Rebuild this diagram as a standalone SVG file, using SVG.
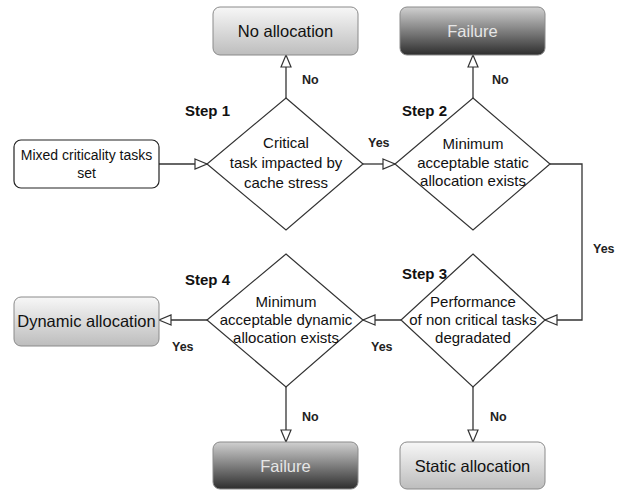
<svg xmlns="http://www.w3.org/2000/svg" width="628" height="490" viewBox="0 0 628 490">
<style>
.box{stroke:#8a8a8a;stroke-width:1}
.gray{fill:url(#gGray)}
.dark{fill:url(#gDark)}
.dia{fill:#fff;stroke:#333;stroke-width:1.2}
.conn{fill:none;stroke:#333;stroke-width:1.3;marker-end:url(#arr)}
text{font-family:"Liberation Sans",Arial,sans-serif;text-anchor:middle}
.bt{font-size:16.5px;fill:#111}
.ft{font-size:16.5px;fill:#e6e6e6}
.dt{font-size:15px;fill:#111}
.st{font-size:15px;font-weight:bold;fill:#111;text-anchor:start}
.lb{font-size:12.5px;font-weight:bold;fill:#222;text-anchor:start}
</style>
<defs>
<linearGradient id="gGray" x1="0" y1="0" x2="0" y2="1">
<stop offset="0" stop-color="#f7f7f7"/>
<stop offset="1" stop-color="#bdbdbd"/>
</linearGradient>
<linearGradient id="gDark" x1="0" y1="0" x2="0" y2="1">
<stop offset="0" stop-color="#d0d0d0"/>
<stop offset="1" stop-color="#2e2e2e"/>
</linearGradient>
<marker id="arr" markerUnits="userSpaceOnUse" markerWidth="14" markerHeight="12" refX="13" refY="6" orient="auto">
<path d="M1,1 L13,6 L1,11 Z" fill="#fff" stroke="#333" stroke-width="1.2"/>
</marker>
</defs>
<rect width="628" height="490" fill="#fff"/>

<g id="connectors">
<path class="conn" d="M159,164 H207"/>
<path class="conn" d="M286,98 V55"/>
<path class="conn" d="M363,164 H395"/>
<path class="conn" d="M473,98 V55"/>
<path class="conn" d="M550,164 H582 V320 H545"/>
<path class="conn" d="M401,320 H363"/>
<path class="conn" d="M473,387 V442"/>
<path class="conn" d="M207,320 H159"/>
<path class="conn" d="M286,387 V442"/>
<text class="lb" x="302" y="84">No</text>
<text class="lb" x="492" y="84">No</text>
<text class="lb" x="368" y="147">Yes</text>
<text class="lb" x="593" y="253">Yes</text>
<text class="lb" x="371" y="351">Yes</text>
<text class="lb" x="172" y="351">Yes</text>
<text class="lb" x="302" y="421">No</text>
<text class="lb" x="490" y="421">No</text>
</g>

<g id="mixed">
<rect x="14" y="140" width="145" height="48" rx="7" fill="#fff" stroke="#222" stroke-width="1.2"/>
<text class="dt" style="font-size:14px" x="86.5" y="160">Mixed criticality tasks</text>
<text class="dt" style="font-size:14px" x="86.5" y="178">set</text>
</g>

<g id="step1">
<text class="st" x="185" y="116">Step 1</text>
<polygon class="dia" points="286,98 363,164 286,230 207,164"/>
<text class="dt" x="286" y="148">Critical</text>
<text class="dt" x="286" y="168">task impacted by</text>
<text class="dt" x="286" y="188">cache stress</text>
</g>

<g id="noalloc">
<rect class="box gray" x="213" y="7" width="145" height="48" rx="7"/>
<text class="bt" x="285.5" y="37">No allocation</text>
</g>

<g id="step2">
<text class="st" x="402" y="116">Step 2</text>
<polygon class="dia" points="473,98 550,164 473,230 395,164"/>
<text class="dt" x="473" y="149">Minimum</text>
<text class="dt" x="473" y="168">acceptable static</text>
<text class="dt" x="473" y="186">allocation exists</text>
</g>

<g id="failure1">
<rect class="box dark" x="400" y="7" width="145" height="48" rx="7"/>
<text class="ft" x="472.5" y="37">Failure</text>
</g>

<g id="step3">
<text class="st" x="402" y="279">Step 3</text>
<polygon class="dia" points="473,254 545,320 473,387 401,320"/>
<text class="dt" x="473" y="307">Performance</text>
<text class="dt" x="473" y="325">of non critical tasks</text>
<text class="dt" x="473" y="343">degradated</text>
</g>

<g id="static">
<rect class="box gray" x="400" y="442" width="145" height="47" rx="7"/>
<text class="bt" x="472.5" y="472">Static allocation</text>
</g>

<g id="step4">
<text class="st" x="185" y="285">Step 4</text>
<polygon class="dia" points="286,254 363,320 286,387 207,320"/>
<text class="dt" x="286" y="307">Minimum</text>
<text class="dt" x="286" y="325">acceptable dynamic</text>
<text class="dt" x="286" y="343">allocation exists</text>
</g>

<g id="dynamic">
<rect class="box gray" x="14" y="297" width="145" height="49" rx="7"/>
<text class="bt" x="86.5" y="327">Dynamic allocation</text>
</g>

<g id="failure2">
<rect class="box dark" x="213" y="442" width="145" height="47" rx="7"/>
<text class="ft" x="285.5" y="472">Failure</text>
</g>
</svg>
